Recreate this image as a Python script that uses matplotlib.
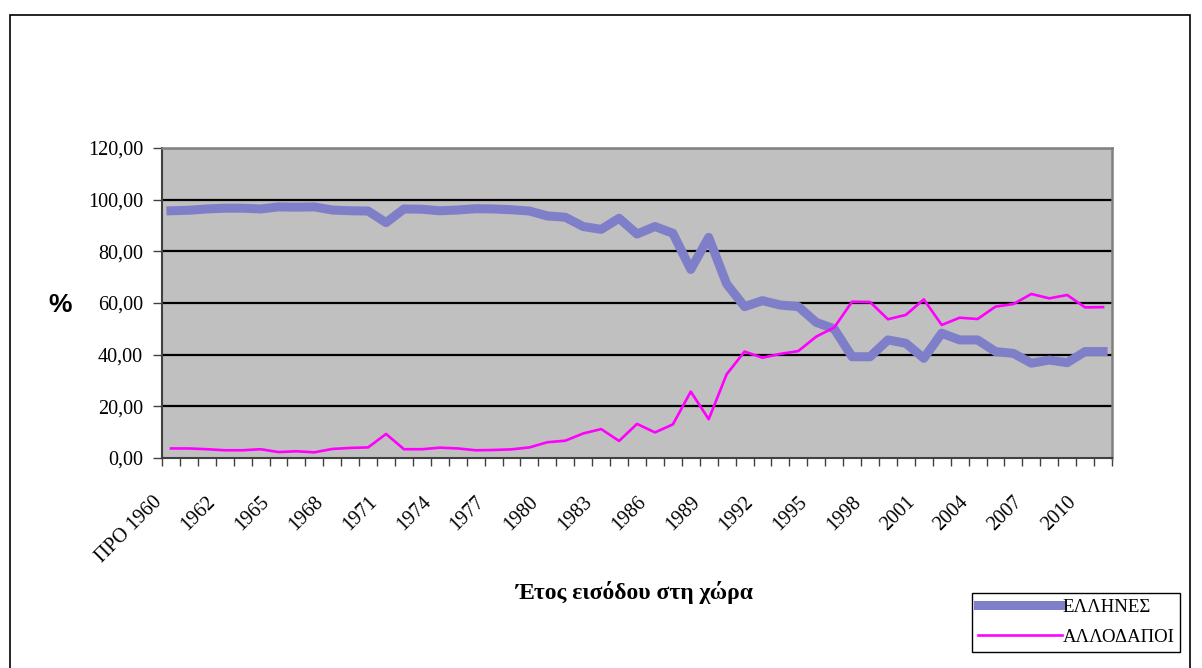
import numpy as np
import matplotlib
matplotlib.use('Agg')
import matplotlib.pyplot as plt
from matplotlib.patches import Rectangle
from matplotlib.transforms import ScaledTranslation

plt.rcParams['font.family'] = ['Liberation Serif', 'DejaVu Serif']

# categories: year of entry into the country
years = ['ΠΡΟ 1960'] + [str(y) for y in range(1960, 2012)]

# share of Greeks (%)
ellines = [95.7, 95.9, 96.4, 96.7, 96.7, 96.4, 97.2, 97.1, 97.2, 96.0,
           95.7, 95.6, 91.1, 96.4, 96.3, 95.7, 96.0, 96.5, 96.4, 96.1,
           95.6, 93.7, 93.2, 89.6, 88.5, 92.8, 86.7, 89.6, 87.0, 73.0,
           85.4, 67.4, 58.6, 60.9, 59.2, 58.6, 52.5, 50.0, 39.2, 39.2,
           45.7, 44.4, 38.6, 48.3, 45.7, 45.7, 41.2, 40.5, 36.7, 37.9,
           36.9, 41.2, 41.2]

# share of foreigners (%)
allodapoi = [3.7, 3.7, 3.4, 3.0, 3.0, 3.4, 2.3, 2.6, 2.2, 3.5,
             3.9, 4.1, 9.3, 3.4, 3.4, 4.0, 3.7, 3.0, 3.1, 3.35,
             4.1, 6.1, 6.7, 9.5, 11.2, 6.6, 13.2, 9.9, 13.0, 25.7,
             15.0, 32.4, 41.2, 38.8, 40.3, 41.4, 47.0, 50.5, 60.5, 60.4,
             53.7, 55.4, 61.4, 51.5, 54.3, 53.8, 58.6, 59.6, 63.5, 61.8,
             63.1, 58.3, 58.4]

yticks = [0, 20, 40, 60, 80, 100, 120]

W, H = 1202, 668
fig = plt.figure(figsize=(W / 100, H / 100), dpi=100)
ax = fig.add_axes([162 / W, 1 - 458 / H, 950 / W, 310 / H])
ax.set_facecolor('#C0C0C0')

x = np.arange(len(years))
ax.plot(x, ellines, color='#7F7FC9', lw=6.5, label='ΕΛΛΗΝΕΣ', zorder=3)
ax.plot(x, allodapoi, color='#FF00FF', lw=1.9, label='ΑΛΛΟΔΑΠΟΙ', zorder=4)

ax.set_xlim(-0.5, len(years) - 0.5)
ax.set_ylim(0, 120)
ax.set_yticks(yticks)
ax.set_yticklabels([f'{v:.2f}'.replace('.', ',') for v in yticks], fontsize=14.5)
for v in yticks[1:-1]:
    ax.axhline(v, color='black', lw=1.6, zorder=2)

# category boundaries get tick marks, centres get labels
ax.set_xticks(np.arange(len(years) + 1) - 0.5)
ax.set_xticklabels([])
lab_idx = list(range(0, len(years), 3))
ax.set_xticks(lab_idx, minor=True)
ax.set_xticklabels([years[i] for i in lab_idx], minor=True, rotation=45,
                   ha='right', fontsize=14.5)
ax.tick_params(axis='x', which='minor', length=0, pad=25)
ax.tick_params(axis='x', which='major', length=6, width=1, color='#404040')
ax.tick_params(axis='y', length=6.5, width=1, color='#404040', pad=7)
off = ScaledTranslation(-0.05, 0, fig.dpi_scale_trans)
for lab in ax.get_xticklabels(minor=True):
    lab.set_transform(lab.get_transform() + off)

for side in ['left', 'bottom']:
    ax.spines[side].set_color('#404040')
    ax.spines[side].set_linewidth(1.5)
for side in ['top', 'right']:
    ax.spines[side].set_color('#808080')
    ax.spines[side].set_linewidth(1.8)

fig.text(60 / W, 1 - 305 / H, '%', fontsize=19, fontweight='bold',
         family=['Liberation Sans', 'DejaVu Sans'], ha='center', va='center')
fig.text(635 / W, 1 - 592 / H, 'Έτος εισόδου στη χώρα', fontsize=17,
         fontweight='bold', ha='center', va='center')

leg = ax.legend(loc='upper left', bbox_to_anchor=(972 / W, 1 - 593 / H),
                bbox_transform=fig.transFigure, borderaxespad=0, fontsize=13.5,
                frameon=True, fancybox=False, edgecolor='black', framealpha=1,
                handlelength=4.5, handletextpad=0.05, labelspacing=0.7,
                borderpad=0.3)
leg.get_frame().set_linewidth(1.0)

fig.add_artist(Rectangle((10 / W, -0.05), 1180 / W, 1.05 - 15 / H,
                         transform=fig.transFigure, fill=False,
                         ec='black', lw=1.2))

fig.savefig('out.png', dpi=100)
